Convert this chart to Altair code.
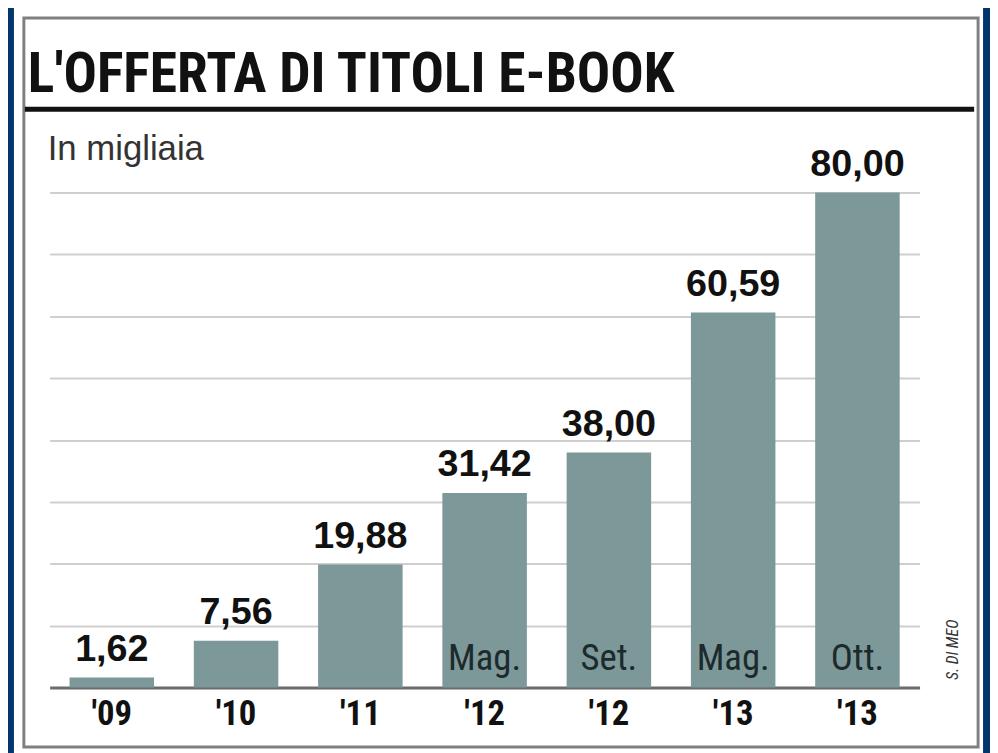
import altair as alt
import pandas as pd

# ---- data ----
keys = ["'09", "'10", "'11", "'12 Mag.", "'12 Set.", "'13 Mag.", "'13 Ott."]
years = ["'09", "'10", "'11", "'12", "'12", "'13", "'13"]
months = ["", "", "", "Mag.", "Set.", "Mag.", "Ott."]
values = [1.62, 7.56, 19.88, 31.42, 38.00, 60.59, 80.00]
labels = [f"{v:.2f}".replace(".", ",") for v in values]
grid_values = [10, 20, 30, 40, 50, 60, 70, 80]

TITLE = "L'OFFERTA DI TITOLI E-BOOK"
SUBTITLE = "In migliaia"
SOURCE = "S. DI MEO"

NARROW = "Roboto Condensed, Liberation Sans Narrow, Arial Narrow, Roboto, sans-serif"
SANS = "Liberation Sans, Arial, sans-serif"
BLUE = "#03376b"
BAR = "#7d9898"

W, H = 877, 499

df = pd.DataFrame(dict(key=keys, year=years, month=months, value=values,
                       label=labels, base=[0] * len(keys)))
one = pd.DataFrame({"a": [0]})

x = alt.X("key:N", sort=keys,
          scale=alt.Scale(paddingInner=0.32, paddingOuter=0.16),
          axis=alt.Axis(title=None, labels=False, ticks=False, domain=True,
                        domainColor="#6b6b6b", domainWidth=3, grid=False))
y = alt.Y("value:Q", scale=alt.Scale(domain=[0, 80], nice=False),
          axis=alt.Axis(title=None, labels=False, ticks=False, domain=False,
                        grid=True, values=grid_values,
                        gridColor="#cfcfcf", gridWidth=2))

base = alt.Chart(df)

bars = base.mark_bar(color=BAR).encode(x=x, y=y)

value_text = base.mark_text(font=SANS, fontWeight="bold", fontSize=38,
                            baseline="alphabetic", dy=-17, color="#111111").encode(
    x=alt.X("key:N", sort=keys), y=alt.Y("value:Q"), text="label:N")

month_text = base.mark_text(font=NARROW, fontSize=37, baseline="alphabetic",
                            dy=-18, color="#1c2a2c").encode(
    x=alt.X("key:N", sort=keys), y=alt.Y("base:Q"), text="month:N")

year_text = base.mark_text(font=NARROW, fontWeight="bold", fontSize=35,
                           baseline="alphabetic", color="#111111").encode(
    x=alt.X("key:N", sort=keys), y=alt.value(537), text="year:N")

deco = alt.Chart(one)
blue_left = deco.mark_rect(color=BLUE).encode(
    x=alt.value(-42), x2=alt.value(-36), y=alt.value(-190), y2=alt.value(570))
blue_right = deco.mark_rect(color=BLUE).encode(
    x=alt.value(941), x2=alt.value(960), y=alt.value(-190), y2=alt.value(570))
border = deco.mark_rect(fillOpacity=0, stroke="#808080", strokeWidth=3).encode(
    x=alt.value(-26), x2=alt.value(936), y=alt.value(-176), y2=alt.value(559))
black_line = deco.mark_rule(color="#111111", strokeWidth=5).encode(
    x=alt.value(-25), x2=alt.value(932), y=alt.value(-84))
title = deco.mark_text(text=TITLE, font=NARROW, fontWeight="bold", fontSize=56,
                       align="left", baseline="alphabetic", color="#111111").encode(
    x=alt.value(-22), y=alt.value(-101))
subtitle = deco.mark_text(text=SUBTITLE, font=SANS, fontSize=35,
                          align="left", baseline="alphabetic", color="#333333").encode(
    x=alt.value(-2), y=alt.value(-33))
source = deco.mark_text(text=SOURCE, font=NARROW, fontSize=16, fontStyle="italic",
                        angle=270, align="center", baseline="middle",
                        color="#333333").encode(
    x=alt.value(911), y=alt.value(461))

chart = alt.layer(
    blue_left, blue_right, border, black_line, title, subtitle,
    bars, value_text, month_text, year_text, source
).properties(
    width=W, height=H,
    autosize=alt.AutoSizeParams(type="none"),
    padding={"left": 42, "top": 183, "right": 71, "bottom": 63},
    background="white",
).configure_view(stroke=None)

chart.save("out.html", embed_options={"renderer": "svg", "actions": False})
